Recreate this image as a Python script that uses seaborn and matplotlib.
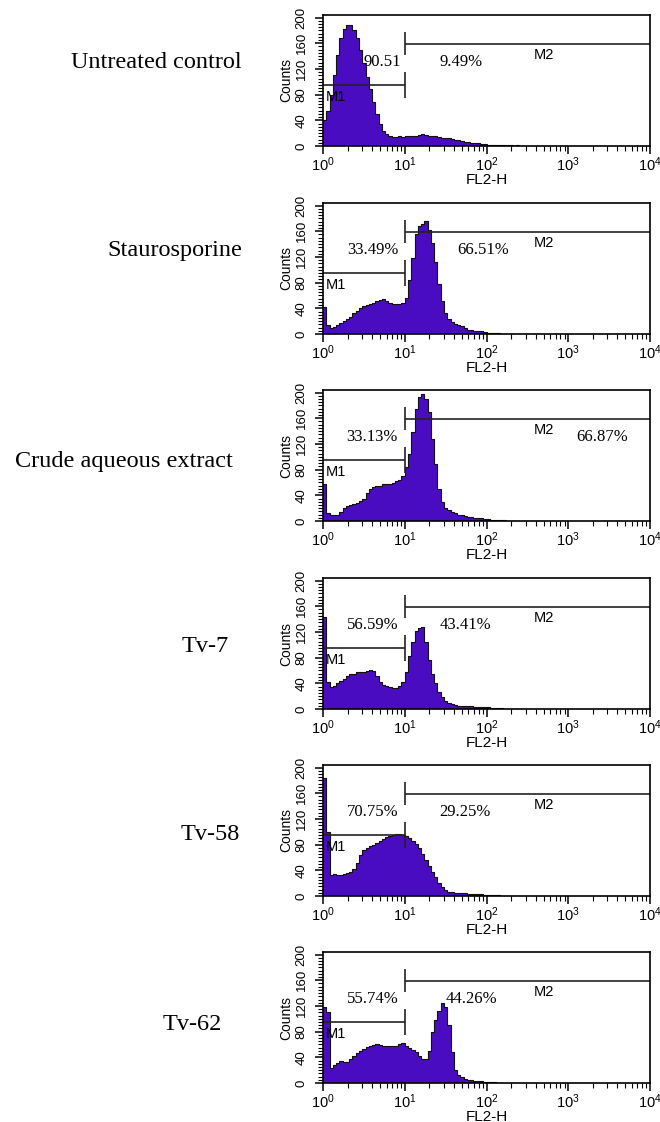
import numpy as np
import pandas as pd
import matplotlib
matplotlib.use("Agg")
import matplotlib.pyplot as plt
from matplotlib import font_manager
from matplotlib.ticker import MultipleLocator, LogLocator, NullFormatter
import seaborn as sns

# counts per channel, channels every 0.04 decade from 10^0 to 10^2.4
untreated = [40, 55, 80, 110, 142, 168, 182, 189, 188, 181,
             168, 150, 130, 108, 88, 68, 50, 34, 24, 18,
             15, 14, 14, 15, 14, 15, 15, 16, 15, 17,
             18, 17, 16, 16, 15, 14, 13, 13, 12, 11,
             10, 9, 8, 7, 6, 5, 5, 4, 3, 3,
             2, 2, 2, 1, 1, 1, 1, 1, 0, 1]
staurosporine = [42, 14, 10, 11, 14, 17, 20, 23, 27, 32,
                 36, 40, 43, 45, 47, 49, 51, 53, 54, 52,
                 49, 46, 46, 47, 48, 56, 84, 118, 155, 168,
                 172, 176, 162, 142, 112, 78, 52, 33, 24, 19,
                 16, 14, 12, 9, 7, 6, 5, 4, 4, 3,
                 2, 2, 1, 1, 0, 0, 0, 0, 0, 0]
crude_extract = [58, 13, 9, 9, 10, 14, 20, 24, 25, 27,
                 28, 31, 35, 44, 50, 53, 54, 55, 57, 58,
                 57, 59, 62, 64, 70, 84, 105, 138, 175, 193,
                 198, 190, 170, 128, 88, 50, 30, 21, 17, 14,
                 12, 10, 9, 8, 7, 6, 5, 4, 4, 3,
                 3, 2, 2, 1, 1, 1, 0, 0, 0, 0]
tv7 = [144, 42, 34, 36, 40, 44, 47, 51, 54, 55,
       57, 58, 58, 59, 60, 59, 52, 42, 38, 36,
       34, 33, 33, 36, 42, 58, 82, 105, 122, 126,
       127, 104, 76, 55, 40, 26, 18, 13, 10, 8,
       6, 5, 5, 4, 4, 4, 3, 3, 3, 3,
       3, 2, 2, 2, 1, 0, 0, 0, 0, 0]
tv58 = [183, 100, 32, 34, 32, 33, 35, 36, 38, 42,
        52, 64, 72, 75, 78, 80, 83, 86, 88, 92,
        94, 95, 96, 96, 95, 94, 90, 86, 81, 74,
        66, 56, 46, 38, 29, 20, 14, 10, 7, 6,
        5, 4, 4, 4, 3, 3, 3, 3, 3, 2,
        2, 2, 1, 1, 0, 0, 0, 0, 0, 0]
tv62 = [119, 110, 24, 28, 31, 34, 32, 33, 38, 42,
        46, 50, 53, 56, 57, 59, 60, 59, 58, 58,
        57, 57, 58, 60, 62, 58, 55, 52, 49, 42,
        37, 37, 50, 80, 98, 112, 125, 118, 90, 48,
        20, 13, 9, 7, 5, 4, 3, 3, 3, 2,
        2, 1, 1, 0, 0, 0, 0, 0, 0, 0]

samples = ["Untreated control", "Staurosporine", "Crude aqueous extract",
           "Tv-7", "Tv-58", "Tv-62"]
series = [untreated, staurosporine, crude_extract, tv7, tv58, tv62]
m1_pct = ["90.51", "33.49%", "33.13%", "56.59%", "70.75%", "55.74%"]
m2_pct = ["9.49%", "66.51%", "66.87%", "43.41%", "29.25%", "44.26%"]

m1_gate = [1, 10]
m2_gate = [10, 1e4]
m1_level = 95
m2_level = 159

sns.set_style("ticks")
names = {f.name for f in font_manager.fontManager.ttflist}
narrow = "Liberation Sans Narrow" if "Liberation Sans Narrow" in names else "Liberation Sans"
plt.rcParams["font.family"] = ["Liberation Sans", "DejaVu Sans"]
plt.rcParams["mathtext.fontset"] = "custom"
plt.rcParams["mathtext.rm"] = "Liberation Sans"
plt.rcParams["mathtext.it"] = "Liberation Sans"
for k in ["text.color", "axes.labelcolor", "xtick.color", "ytick.color"]:
    plt.rcParams[k] = "black"

fill = "#4a0cc0"
edges = list(np.logspace(0, 2.4, 61))
centers = [np.sqrt(a * b) for a, b in zip(edges[:-1], edges[1:])]

fig = plt.figure(figsize=(6.6, 11.22), dpi=100)
W, H = 660, 1122

tops = [15, 203, 390, 578, 765, 952]
lab_xy = [(156, 63), (175, 251), (124, 461), (205, 647), (210, 835), (192, 1025)]
m1_txt_x = [10**0.73, 10**0.61, 10**0.60, 10**0.61, 10**0.61, 10**0.61]
m2_txt_x = [10**1.69, 10**1.96, 10**3.42, 10**1.74, 10**1.74, 10**1.82]

for i in range(6):
    ax = fig.add_axes([323 / W, 1 - (tops[i] + 131) / H, 327 / W, 131 / H])
    df = pd.DataFrame({"fl2": centers, "count": series[i]})
    sns.histplot(data=df, x="fl2", weights="count", bins=edges, element="step",
                 fill=True, color=fill, linewidth=0, alpha=1, ax=ax)
    sns.histplot(data=df, x="fl2", weights="count", bins=edges, element="step",
                 fill=False, color="#111111", linewidth=0.8, ax=ax)
    ax.set_xscale("log")
    ax.set_xlim(1, 1e4)
    ax.set_ylim(0, 204)

    # gate markers
    ax.hlines(m1_level, *m1_gate, color="#222222", lw=1.2)
    ax.vlines(m1_gate[1], m1_level - 20, m1_level + 20, color="#222222", lw=1.2)
    ax.hlines(m2_level, *m2_gate, color="#222222", lw=1.2)
    ax.vlines(m2_gate[0], m2_level - 18, m2_level + 18, color="#222222", lw=1.2)
    ax.text(1.07, 77, "M1", fontsize=10.5, va="center", ha="left")
    ax.text(10**2.7, 142, "M2", fontsize=10.5, va="center", ha="center")

    ax.text(m1_txt_x[i], 131, m1_pct[i], family="Liberation Serif",
            fontsize=12, ha="center", va="center")
    ax.text(m2_txt_x[i], 131, m2_pct[i], family="Liberation Serif",
            fontsize=12, ha="center", va="center")

    ax.set_yticks([0, 40, 80, 120, 160, 200])
    ax.yaxis.set_minor_locator(MultipleLocator(5))
    ax.xaxis.set_major_locator(LogLocator(base=10, numticks=10))
    ax.xaxis.set_minor_locator(LogLocator(base=10, subs=np.arange(2, 10), numticks=20))
    ax.xaxis.set_minor_formatter(NullFormatter())
    ax.tick_params(axis="both", which="major", direction="out", length=6,
                   width=1.1, color="black")
    ax.tick_params(axis="both", which="minor", direction="out", length=3.5,
                   width=0.8, color="black")
    ax.tick_params(axis="x", labelsize=10.5, pad=1)
    ax.tick_params(axis="y", labelsize=9.5, pad=5, labelrotation=90)
    for t in ax.get_yticklabels():
        t.set_family(narrow)
        t.set_va("center")

    ax.set_xlabel("FL2-H", fontsize=11, labelpad=-1)
    ax.set_ylabel("Counts", fontsize=10, family=narrow, labelpad=2)
    for s in ax.spines.values():
        s.set_visible(True)
        s.set_linewidth(1.2)
        s.set_color("black")

    fig.text(lab_xy[i][0] / W, 1 - lab_xy[i][1] / H, samples[i],
             family="Liberation Serif", fontsize=17.5, ha="center", va="center")

fig.savefig("out.png", dpi=100)
